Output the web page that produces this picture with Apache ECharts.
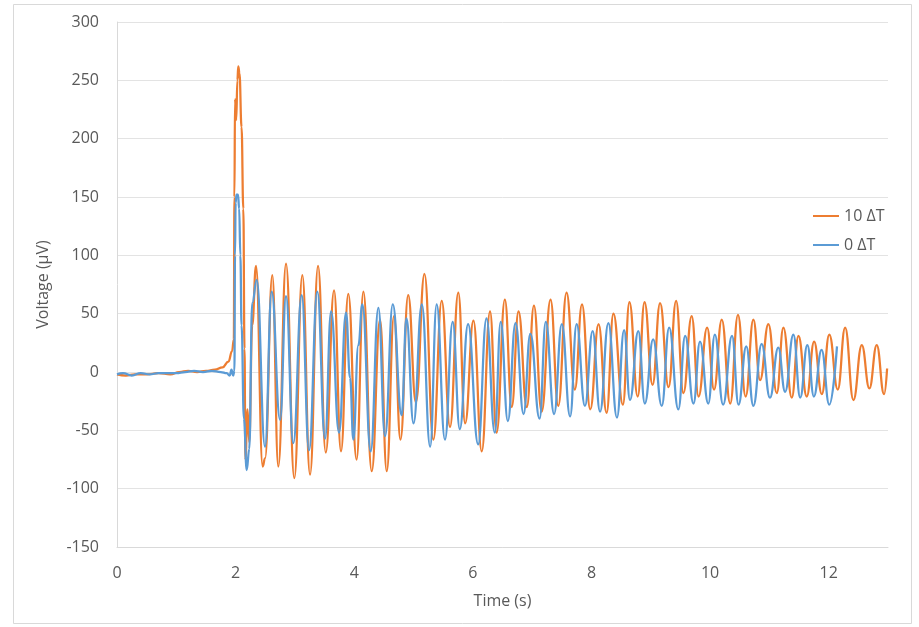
<!DOCTYPE html>
<html>
<head>
<meta charset="utf-8">
<script src="https://cdn.jsdelivr.net/npm/echarts@6/dist/echarts.min.js"></script>
<style>
  html, body { margin: 0; padding: 0; background: #fff; }
  #main { width: 919px; height: 627px; }
</style>
</head>
<body>
<div id="main"></div>
<script>
// [time (s), voltage (µV)]
var hot10 = [
  [0,-2],[0.15,-3],[0.3,-2],[0.5,-2],[0.7,-1],[0.9,-2],[1.05,0],[1.2,1],[1.35,0],[1.5,1],
  [1.65,2],[1.78,4],[1.88,9],[1.94,18],[1.97,28],[1.98,150],[1.99,234],[2.01,216],[2.03,250],
  [2.045,262],[2.065,256],[2.1,210],[2.13,140],[2.15,20],[2.165,-75],[2.2,-32],[2.23,-60],
  [2.28,40],[2.344,91],[2.457,-81],[2.496,-74],[2.619,83],[2.72,-81],[2.85,93],[2.99,-91],
  [3.125,83],[3.255,-88],[3.39,91],[3.52,-69],[3.66,70],[3.777,-68],[3.9,67],[4.04,-75],
  [4.154,69],[4.295,-85],[4.435,45],[4.548,-85],[4.67,48],[4.78,-58],[4.91,66],[5.04,-26],
  [5.185,84],[5.334,-58],[5.475,61],[5.615,-47],[5.755,68],[5.87,-44],[6.01,44],[6.15,-68],
  [6.29,52],[6.4,-52],[6.54,62],[6.656,-30],[6.77,52],[6.91,-30],[7.03,57],[7.16,-34],
  [7.31,62],[7.44,-29],[7.58,68],[7.72,-15],[7.84,58],[7.98,-32],[8.12,41],[8.255,-35],
  [8.37,50],[8.53,-28],[8.64,60],[8.78,-21],[8.895,60],[9.03,-11],[9.157,59],[9.3,-13],
  [9.427,61],[9.55,-18],[9.69,48],[9.806,-21],[9.95,38],[10.067,-15],[10.197,45],[10.34,-27],
  [10.47,49],[10.6,-21],[10.73,45],[10.843,-7],[10.983,41],[11.125,-18],[11.236,38],
  [11.378,-22],[11.49,31],[11.63,-21],[11.754,26],[11.884,-19],[12.01,32],[12.153,-15],
  [12.277,38],[12.417,-24],[12.558,23],[12.686,-14],[12.81,23],[12.934,-19],[12.985,3]
];

var cold0 = [
  [0,-2],[0.1,-1],[0.25,-3],[0.4,-1],[0.55,-2],[0.7,-1],[0.85,-1],[1.0,-1],[1.15,0],[1.3,1],
  [1.45,0],[1.6,1],[1.75,0],[1.85,-1],[1.9,-3],[1.93,2],[1.96,-3],[1.98,1],[1.99,100],
  [2.0,145],[2.015,152],[2.04,152],[2.06,140],[2.08,100],[2.1,40],[2.14,-40],[2.187,-84],
  [2.23,-66],[2.28,59],[2.356,79],[2.496,-64],[2.608,69],[2.75,-41],[2.85,65],[2.973,-61],
  [3.114,66],[3.238,-67],[3.378,69],[3.508,-57],[3.61,52],[3.744,-52],[3.862,51],[3.93,-5],
  [3.985,-58],[4.07,23],[4.137,58],[4.278,-68],[4.407,55],[4.52,-55],[4.65,58],[4.8,-37],
  [4.88,46],[5.0,-44],[5.14,58],[5.28,-64],[5.39,58],[5.53,-58],[5.66,43],[5.78,-49],
  [5.92,41],[6.09,-62],[6.23,46],[6.37,-52],[6.47,43],[6.59,-42],[6.72,42],[6.855,-36],
  [6.97,33],[7.125,-40],[7.23,43],[7.37,-36],[7.5,41],[7.64,-38],[7.75,41],[7.89,-29],
  [8.02,35],[8.145,-34],[8.285,42],[8.43,-39],[8.55,36],[8.65,-24],[8.79,35],[8.9,-27],
  [9.04,28],[9.185,-29],[9.31,38],[9.465,-32],[9.58,31],[9.72,-27],[9.83,26],[9.97,-27],
  [10.08,32],[10.22,-28],[10.37,31],[10.48,-28],[10.61,22],[10.73,-29],[10.87,24],
  [11.01,-22],[11.15,21],[11.265,-17],[11.405,32],[11.52,-22],[11.64,23],[11.75,-21],
  [11.88,19],[12.01,-28],[12.14,22]
];

var seriesNames = ['10 \u0394T', '0 \u0394T'];
var seriesColors = ['#ED7D31', '#5B9BD5'];

var textColor = '#595959';
var fontName = 'Open Sans';

var chart = echarts.init(document.getElementById('main'));

var option = {
  animation: false,
  backgroundColor: '#fff',
  graphic: [{
    type: 'rect',
    shape: { x: 13.5, y: 4.5, width: 898, height: 619 },
    style: { fill: 'none', stroke: '#d9d9d9', lineWidth: 1 },
    silent: true
  }],
  grid: { left: 117, right: 31, top: 22, bottom: 80 },
  legend: {
    orient: 'vertical',
    left: 808,
    top: 203,
    itemGap: 13,
    itemWidth: 26,
    itemHeight: 2,
    icon: 'rect',
    textStyle: { color: textColor, fontFamily: fontName, fontSize: 16 },
    data: seriesNames
  },
  xAxis: {
    type: 'value',
    min: 0,
    max: 13,
    interval: 2,
    name: 'Time (s)',
    nameLocation: 'middle',
    nameGap: 46,
    nameTextStyle: { color: textColor, fontFamily: fontName, fontSize: 16 },
    axisLine: { show: true, onZero: false, lineStyle: { color: '#d9d9d9' } },
    axisTick: { show: false },
    splitLine: { show: false },
    axisLabel: { color: textColor, fontFamily: fontName, fontSize: 16, margin: 18, showMaxLabel: false }
  },
  yAxis: {
    type: 'value',
    min: -150,
    max: 300,
    interval: 50,
    name: 'Voltage (\u00b5V)',
    nameLocation: 'middle',
    nameGap: 66,
    nameTextStyle: { color: textColor, fontFamily: fontName, fontSize: 16 },
    axisLine: { show: true, lineStyle: { color: '#d9d9d9' } },
    axisTick: { show: false },
    splitLine: { show: true, lineStyle: { color: '#e3e3e3' } },
    axisLabel: { color: textColor, fontFamily: fontName, fontSize: 16, margin: 18 }
  },
  series: [
    {
      name: seriesNames[0],
      type: 'line',
      data: hot10,
      showSymbol: false,
      smooth: 0.45,
      smoothMonotone: 'x',
      lineStyle: { color: seriesColors[0], width: 2.25 },
      itemStyle: { color: seriesColors[0] }
    },
    {
      name: seriesNames[1],
      type: 'line',
      data: cold0,
      showSymbol: false,
      smooth: 0.45,
      smoothMonotone: 'x',
      lineStyle: { color: seriesColors[1], width: 2.25 },
      itemStyle: { color: seriesColors[1] }
    }
  ]
};

chart.setOption(option);
</script>
</body>
</html>
